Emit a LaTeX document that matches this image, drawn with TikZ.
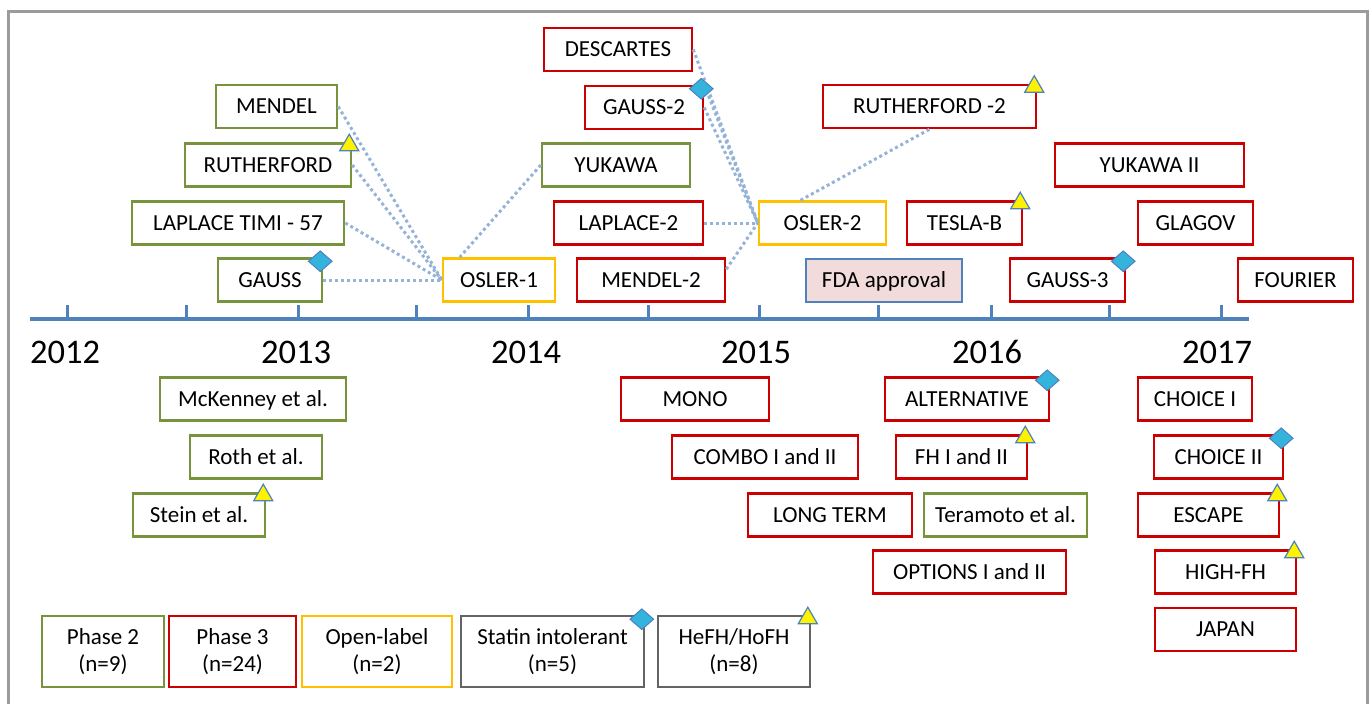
\documentclass[tikz,border=0pt]{standalone}
\usepackage{fontspec}
\setmainfont{Carlito}
\definecolor{tlgreen}{RGB}{119,147,60}
\definecolor{tlred}{RGB}{204,0,0}
\definecolor{tlorange}{RGB}{255,192,0}
\definecolor{tlblue}{RGB}{79,129,189}
\definecolor{tldots}{RGB}{149,179,215}
\definecolor{tlgray}{RGB}{100,100,100}
\definecolor{tlframe}{RGB}{155,155,155}
\definecolor{tlpink}{RGB}{242,220,219}
\definecolor{tlcyan}{RGB}{52,180,220}
\usetikzlibrary{shapes.geometric}

\begin{document}
\begin{tikzpicture}[x=1pt, y=-1pt, every node/.style={font=\fontsize{23}{27}\selectfont},
  bx/.style={draw, line width=2.5pt, fill=white, minimum height=43pt, inner sep=0pt, align=center},
  ph2/.style={bx, draw=tlgreen, text depth=0pt},
  ph3/.style={bx, draw=tlred, text depth=0pt},
  opl/.style={bx, draw=tlorange, text depth=0pt},
  lg/.style={bx, line width=1.6pt, minimum height=71pt},
  yr/.style={font=\fontsize{34.5}{38}\selectfont},
  lnk/.style={tldots, line width=3pt, dash pattern=on 3pt off 3pt},
  dia/.style={diamond, draw=tlblue, fill=tlcyan, line width=1pt, minimum width=24pt, minimum height=21pt, inner sep=0pt},
  tri/.style={regular polygon, regular polygon sides=3, draw=tlblue, fill=yellow, line width=1.2pt, minimum size=22pt, inner sep=0pt}]
\useasboundingbox (0,0) rectangle (1371,704);
\draw[tlframe, line width=3pt] (8,704) -- (8,11) -- (1367,11) -- (1367,704);

\draw[tlblue, line width=4pt] (30,319) -- (1249,319);
\foreach \x in {67,186,298,416,528,648,759,878,991,1109,1221}
  \draw[tlblue, line width=3pt] (\x,305) -- (\x,319);
\foreach \yr/\x in {2012/65,2013/296,2014/526,2015/756,2016/987,2017/1217}
  \node[yr] (y\yr) at (\x,352) {\yr};

\node[ph2, minimum width=121pt] (mendel) at (276.5,106.5) {MENDEL};
\node[ph2, minimum width=166pt] (rutherford) at (268,165) {RUTHERFORD};
\node[ph2, minimum width=212pt] (laplace) at (238,223) {LAPLACE TIMI - 57};
\node[ph2, minimum width=104pt] (gauss) at (270,280) {GAUSS};
\node[opl, minimum width=112pt] (osler1) at (499,280) {OSLER-1};
\node[ph3, minimum width=148pt] (descartes) at (618,49.5) {DESCARTES};
\node[ph3, minimum width=118pt] (gauss2) at (644,107.5) {GAUSS-2};
\node[ph2, minimum width=148pt] (yukawa) at (616,165) {YUKAWA};
\node[ph3, minimum width=149pt] (laplace2) at (628.5,223) {LAPLACE-2};
\node[ph3, minimum width=148pt] (mendel2) at (651,280) {MENDEL-2};
\node[opl, minimum width=127pt] (osler2) at (822.5,223) {OSLER-2};
\node[bx, draw=tlblue, fill=tlpink, line width=2pt, text depth=0pt, minimum width=156pt] (fda) at (884,280) {FDA approval};
\node[ph3, minimum width=213pt] (rutherford2) at (929.5,106.5) {RUTHERFORD -2};
\node[ph3, minimum width=115pt] (teslab) at (964.5,223) {TESLA-B};
\node[ph3, minimum width=115pt] (gauss3) at (1067.5,280) {GAUSS-3};
\node[ph3, minimum width=189pt] (yukawa2) at (1149.5,165) {YUKAWA II};
\node[ph3, minimum width=115pt] (glagov) at (1195.5,223) {GLAGOV};
\node[ph3, minimum width=115pt] (fourier) at (1295.5,280) {FOURIER};

\node[ph2, minimum width=186pt] (mckenney) at (253,399) {McKenney et al.};
\node[ph2, minimum width=132pt] (roth) at (256,457) {Roth et al.};
\node[ph2, minimum width=132pt] (stein) at (199,515) {Stein et al.};
\node[ph3, minimum width=148pt] (mono) at (695,399) {MONO};
\node[ph3, minimum width=186pt] (combo) at (765,457) {COMBO I and II};
\node[ph3, minimum width=164pt] (longterm) at (830,515) {LONG TERM};
\node[ph2, minimum width=163pt] (teramoto) at (1005.5,515) {Teramoto et al.};
\node[ph3, minimum width=193pt] (options) at (969.5,572) {OPTIONS I and II};
\node[ph3, minimum width=164pt] (alternative) at (967,399) {ALTERNATIVE};
\node[ph3, minimum width=131pt] (fh) at (961.5,457) {FH I and II};
\node[ph3, minimum width=114pt] (choice1) at (1195,399) {CHOICE I};
\node[ph3, minimum width=129pt] (choice2) at (1218.5,457) {CHOICE II};
\node[ph3, minimum width=141pt] (escape) at (1208.5,515) {ESCAPE};
\node[ph3, minimum width=141pt] (highfh) at (1225.5,572) {HIGH-FH};
\node[ph3, minimum width=141pt] (japan) at (1225.5,629.5) {JAPAN};

\node[lg, draw=tlgreen, minimum width=122pt] (leg2) at (103,651.5) {Phase 2\\(n=9)};
\node[lg, draw=tlred, minimum width=127pt] (leg3) at (232.5,651.5) {Phase 3\\(n=24)};
\node[lg, draw=tlorange, minimum width=150pt] (legopen) at (377,651.5) {Open-label\\(n=2)};
\node[lg, draw=tlgray, minimum width=183pt] (legstatin) at (552.5,651.5) {Statin intolerant\\(n=5)};
\node[lg, draw=tlgray, minimum width=152pt] (leghefh) at (734,651.5) {HeFH/HoFH\\(n=8)};

\draw[lnk] (mendel.east) -- (osler1.west);
\draw[lnk] (rutherford.east) -- (osler1.west);
\draw[lnk] (laplace.east) -- (osler1.west);
\draw[lnk] (gauss.east) -- (osler1.west);
\draw[lnk] (yukawa.west) -- ([xshift=18pt]osler1.north west);
\draw[lnk] (descartes.east) -- (osler2.west);
\draw[lnk] (gauss2.north east) -- (osler2.west);
\draw[lnk] (gauss2.east) -- (osler2.west);
\draw[lnk] (laplace2.east) -- (osler2.west);
\draw[lnk] ([yshift=-12pt]mendel2.north east) -- (osler2.west);
\draw[lnk] ([xshift=-22pt]osler2.north) -- (rutherford2.south);

\foreach \n in {gauss,gauss2,gauss3,alternative,choice2,legstatin}
  \node[dia] (d\n) at ([xshift=-3pt,yshift=-4pt]\n.north east) {};
\foreach \n in {rutherford,rutherford2,teslab,fh,stein,escape,highfh,leghefh}
  \node[tri] (t\n) at ([xshift=-3pt,yshift=-3pt]\n.north east) {};
\end{tikzpicture}
\end{document}
